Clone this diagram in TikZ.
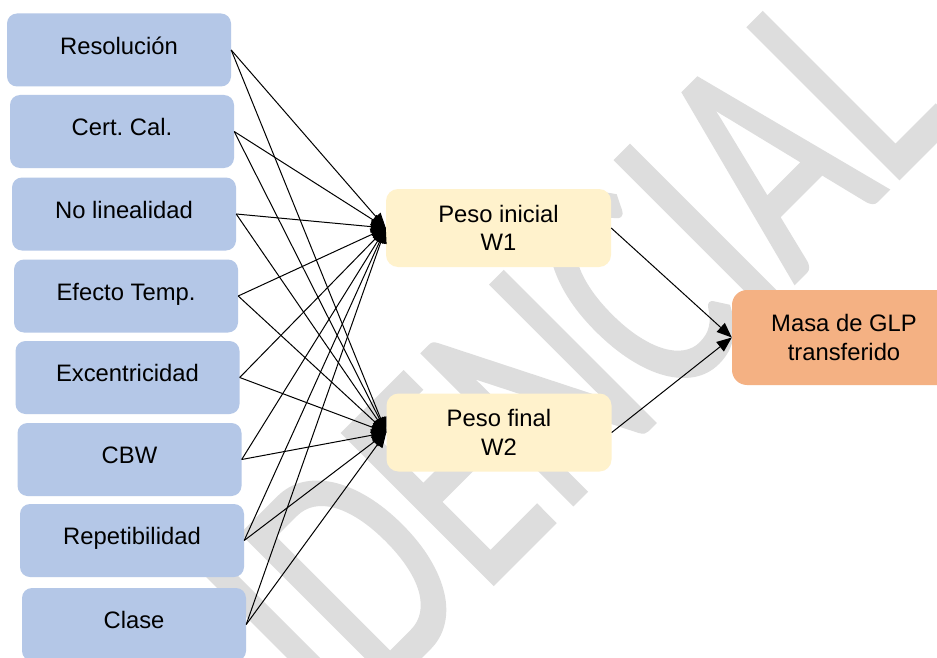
\documentclass[tikz,border=0pt]{standalone}
\usepackage{fontspec}
\setmainfont{Liberation Sans}
\newfontfamily\wmfont[FakeBold=1.2]{Carlito}
\usetikzlibrary{arrows.meta}
\definecolor{inblue}{HTML}{B4C7E7}
\definecolor{wyellow}{HTML}{FFF2CC}
\definecolor{morange}{HTML}{F4B183}
\definecolor{wmgray}{RGB}{221,221,221}
\frenchspacing
\begin{document}
\begin{tikzpicture}[x=1pt,y=-1pt,
  txt/.style={font=\fontsize{23.8}{28.6}\selectfont},
  inbox/.style={txt, fill=inblue, rounded corners=10pt, minimum width=224pt, minimum height=73pt, inner sep=0pt, text height=15.6pt, text depth=7pt},
  wbox/.style={txt, fill=wyellow, rounded corners=12pt, minimum width=225pt, minimum height=78pt, inner sep=0pt, align=center},
  mbox/.style={txt, fill=morange, rounded corners=15pt, minimum width=224pt, minimum height=95pt, inner sep=0pt, align=center},
  conn/.style={draw=black, line width=1pt, -{Triangle[length=15pt,width=12pt]}},
  wm/.style={font=\wmfont\fontsize{230}{230}\selectfont, text=wmgray, inner sep=0pt, anchor=base east, transform shape}
]
\clip (0,0) rectangle (937,658);
\fill[white] (0,0) rectangle (937,658);
\begin{scope}[shift={(956.5,120.5)}, rotate=45, yscale=1.44]
  \node[wm] (wmark) at (0,0) {CONFIDENCIAL};
\end{scope}
\node[inbox] (r1) at (119,50) {Resolución};
\node[inbox] (r2) at (122,131.5) {Cert.\ Cal.};
\node[inbox] (r3) at (124,214) {No linealidad};
\node[inbox] (r4) at (126,296) {Efecto Temp.};
\node[inbox] (r5) at (127.5,377.5) {Excentricidad};
\node[inbox] (r6) at (129.5,459.5) {CBW};
\node[inbox] (r7) at (132,540.5) {Repetibilidad};
\node[inbox] (r8) at (134,624.5) {Clase};
\node[wbox] (w1) at (498.5,228) {Peso inicial\\W1};
\node[wbox] (w2) at (499,432.5) {Peso final\\W2};
\node[mbox] (m) at (844,337.5) {Masa de GLP\\transferido};
\foreach \i in {1,...,8} {
  \draw[conn] (r\i.east) -- (w1.west);
  \draw[conn] (r\i.east) -- (w2.west);
}
\draw[conn] (w1.east) -- (m.west);
\draw[conn] (w2.east) -- (m.west);
\end{tikzpicture}
\end{document}
